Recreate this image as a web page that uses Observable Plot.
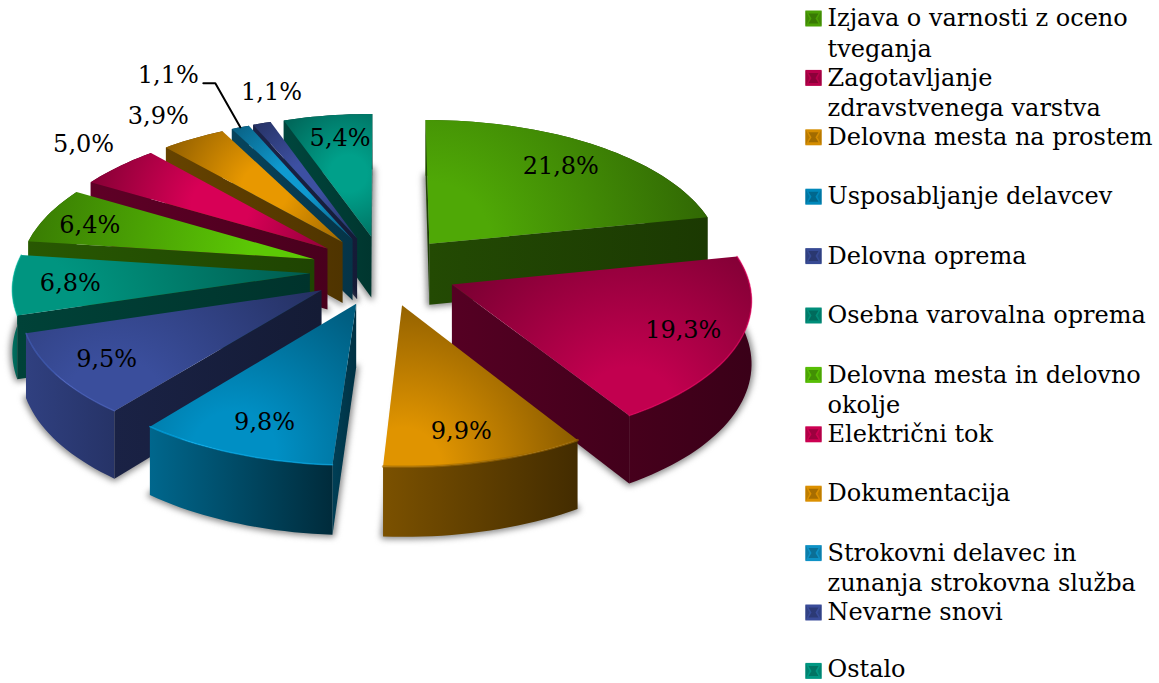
<!DOCTYPE html>
<html><head><meta charset="utf-8">
<script src="https://cdn.jsdelivr.net/npm/d3@7"></script>
<script src="https://cdn.jsdelivr.net/npm/@observablehq/plot@0.6"></script>
<style>html,body{margin:0;padding:0;background:#fff}svg{display:block}</style>
</head><body><div id="chart"></div>
<script>
const categories = [
  "Izjava o varnosti z oceno\ntveganja",
  "Zagotavljanje\nzdravstvenega varstva",
  "Delovna mesta na prostem",
  "Usposabljanje delavcev",
  "Delovna oprema",
  "Osebna varovalna oprema",
  "Delovna mesta in delovno\nokolje",
  "Električni tok",
  "Dokumentacija",
  "Strokovni delavec in\nzunanja strokovna služba",
  "Nevarne snovi",
  "Ostalo"
];
const shares = [21.8, 19.3, 9.9, 9.8, 9.5, 6.8, 6.4, 5.0, 3.9, 1.1, 1.1, 5.4];
const colors = ["#4fa806","#c2004f","#e09400","#008fc4","#3a4e9c","#009580","#5cc805","#d80056","#e89800","#0f9ad0","#3d50a2","#00a08a"];
const wallLight = [.55,.36,.55,.72,.82,.75,.55,.45,.55,.5,.5,.5];
const wallDark = [.3,.3,.3,.3,.66,.6,.3,.3,.3,.3,.3,.3];

// Layout of the tilted, exploded pie
const W = 1159, H = 683;
const view = {cx: 383, cy: 270, a: 295, b: 140, p: 0.092, e: 0.25, depth: 62};
const paintOrder = [11,10,9,8,7,6,0,5,4,1,3,2];
const labelRadial = [.72,.82,.82,.82,.82,.82,.8,1.18,1.19,1.45,1.2,.72];
const labelShift = {0:[8,-6],1:[-2,-2],2:[-8,0],3:[7,-2],5:[4,0],6:[-10,1],7:[0,-8],8:[-9,-4],10:[27,-10],11:[1,-9]};
const font = "'DejaVu Serif', serif", fontSize = 24;

const proj = (X, Y, z = 0) => {
  const s = 1 / (1 - view.p * Y);
  return [view.cx + view.a * X * s, view.cy + view.b * Y * s + z * view.depth * s];
};
const shade = (c, f) => { const r = d3.rgb(c); return d3.rgb(r.r*f, r.g*f, r.b*f).formatHex(); };

const cum = d3.cumsum(shares);
const slices = shares.map((v, i) => {
  const a0 = (i ? cum[i-1] : 0) / 100 * 2 * Math.PI, a1 = cum[i] / 100 * 2 * Math.PI, mid = (a0 + a1) / 2;
  const ox = view.e * Math.sin(mid), oy = -view.e * Math.cos(mid);
  const polar = (a, r) => [ox + r * Math.sin(a), oy - r * Math.cos(a)];
  const n = Math.max(2, Math.ceil((a1 - a0) / 0.03));
  const arc = d3.range(n + 1).map(k => polar(a0 + (a1 - a0) * k / n, 1));
  return {i, a0, a1, mid, ox, oy, polar, arc, color: colors[i], label: v.toFixed(1).replace(".", ",") + "%"};
});

// gradients
const defs = d3.create("svg:defs");
function linear(id, x0, x1, c0, c1) {
  const g = defs.append("linearGradient").attr("id", id).attr("gradientUnits", "userSpaceOnUse")
    .attr("x1", x0).attr("x2", x1).attr("y1", 0).attr("y2", 0);
  g.append("stop").attr("offset", 0).attr("stop-color", c0);
  g.append("stop").attr("offset", 1).attr("stop-color", c1);
}
function radial(id, c, r, c0, c1) {
  const g = defs.append("radialGradient").attr("id", id).attr("gradientUnits", "userSpaceOnUse")
    .attr("cx", c[0]).attr("cy", c[1]).attr("r", r);
  g.append("stop").attr("offset", 0).attr("stop-color", c0);
  g.append("stop").attr("offset", .22).attr("stop-color", c0);
  g.append("stop").attr("offset", 1).attr("stop-color", c1);
}
const poly = (pts, fill, extra = {}) => Plot.line([...pts, pts[0]], {x: d => d[0], y: d => d[1], fill, stroke: "none", ...extra});

const marks = [];
for (const idx of paintOrder) {
  const s = slices[idx];
  const apex = [s.ox, s.oy];
  const topP = [apex, ...s.arc].map(p => proj(p[0], p[1]));
  const botP = [apex, ...s.arc].map(p => proj(p[0], p[1], 1));
  // soft shadow beneath the slice
  marks.push(poly(botP, "#777", {stroke: "#777", strokeWidth: 5, imageFilter: "blur(3px)", fillOpacity: .8, strokeOpacity: .8}));
  // outer wall
  const arcTop = s.arc.map(p => proj(p[0], p[1])), arcBot = s.arc.map(p => proj(p[0], p[1], 1));
  const xs = arcTop.map(p => p[0]);
  linear("w" + idx, d3.min(xs), d3.max(xs), shade(s.color, wallLight[idx]), shade(s.color, wallDark[idx]));
  marks.push(poly([...arcTop, ...arcBot.reverse()], `url(#w${idx})`));
  // straight walls, only those that face the viewer
  const inner = proj(...s.polar(s.mid, .5));
  for (const a of [s.a0, s.a1]) {
    const e = s.polar(a, 1);
    const A = proj(apex[0], apex[1]), B = proj(e[0], e[1]);
    const cross = (P) => (B[0]-A[0])*(P[1]-A[1]) - (B[1]-A[1])*(P[0]-A[0]);
    const below = [(A[0]+B[0])/2, (A[1]+B[1])/2 + 10];
    if (cross(inner) * cross(below) < 0) {
      const A2 = proj(apex[0], apex[1], 1), B2 = proj(e[0], e[1], 1);
      const id = "r" + idx + (a === s.a0 ? "a" : "b");
      linear(id, Math.min(A[0],B[0]), Math.max(A[0],B[0]), shade(s.color,.44), shade(s.color,.34));
      marks.push(poly([A, B, B2, A2], `url(#${id})`));
    }
  }
  // top face
  let light = topP.reduce((m, p) => p[1] > m[1] ? p : m, topP[0]);
  if (s.mid > 5.2) light = proj(...s.polar(s.mid, .5));
  if (idx === 3) light = proj(...s.polar(s.mid, 1));
  const rr = d3.max(topP, p => Math.hypot(p[0]-light[0], p[1]-light[1]));
  radial("t" + idx, light, rr, s.color, shade(s.color, .62));
  marks.push(poly(topP, `url(#t${idx})`));
  // rim highlight on the slices that face the viewer
  if (Math.cos(s.mid) < .1 && idx < 6) {
    const rim = idx === 2 ? shade(s.color, .72) : d3.rgb(s.color).brighter(.6).formatHex();
    marks.push(Plot.line(arcTop, {x: d => d[0], y: d => d[1], stroke: rim, strokeWidth: idx === 2 ? 2.5 : 1.5, strokeOpacity: .6, imageFilter: "blur(.7px)"}));
  }
}

// labels
const labels = slices.map(s => {
  const p = proj(...s.polar(s.mid, labelRadial[s.i]));
  const sh = labelShift[s.i] || [0, 0];
  return {x: p[0] + sh[0], y: p[1] + sh[1], text: s.label};
});
// leader line of the tenth slice
const s10 = slices[9];
const l0 = proj(...s10.polar(s10.mid, 1.0));
const leader = [l0, [l0[0] - 25, l0[1] - 44], [l0[0] - 37, l0[1] - 44]];
labels[9].x = leader[2][0] - 35; labels[9].y = leader[2][1] - 8;

// legend
const rowY = i => 18 + i * 59.4 - (i === 11 ? 1 : 0);
const sq = 16, lx = 805;
categories.forEach((c, i) => {
  const y = rowY(i), col = colors[i];
  const x0 = lx, x1 = lx + sq, y0 = y - sq/2, y1 = y + sq/2, mx = lx + sq/2;
  marks.push(poly([[x0,y0],[x1,y0],[x1,y1],[x0,y1]], shade(col,.95)));
  marks.push(poly([[x0,y0],[x0,y1],[x0+4,y]], shade(col,.82)));
  marks.push(poly([[x1,y0],[x1,y1],[x1-4,y]], shade(col,.82)));
  marks.push(poly([[mx-5,y-5],[mx+5,y-5],[mx+2,y],[mx+5,y+5],[mx-5,y+5],[mx-2,y]], shade(col,.72), {imageFilter: "blur(.6px)"}));
});

const plot = Plot.plot({
  width: W, height: H, margin: 0,
  x: {domain: [0, W], range: [0, W], axis: null},
  y: {domain: [0, H], range: [0, H], axis: null},
  style: {background: "#fff", fontFamily: font},
  marks: [
    () => defs.node(),
    ...marks,
    Plot.line(leader, {x: d => d[0], y: d => d[1], stroke: "#000", strokeWidth: 2}),
    Plot.text(labels, {x: "x", y: "y", text: "text", fontSize, fill: "#000", fontFamily: font}),
    Plot.text(categories, {x: () => 827, y: (d, i) => rowY(i) - 14 - (i === 11 ? 2 : 0), text: d => d, textAnchor: "start", lineAnchor: "top", lineHeight: 1.27, fontSize, fill: "#000", fontFamily: font})
  ]
});
document.getElementById("chart").append(plot);
</script></body></html>
